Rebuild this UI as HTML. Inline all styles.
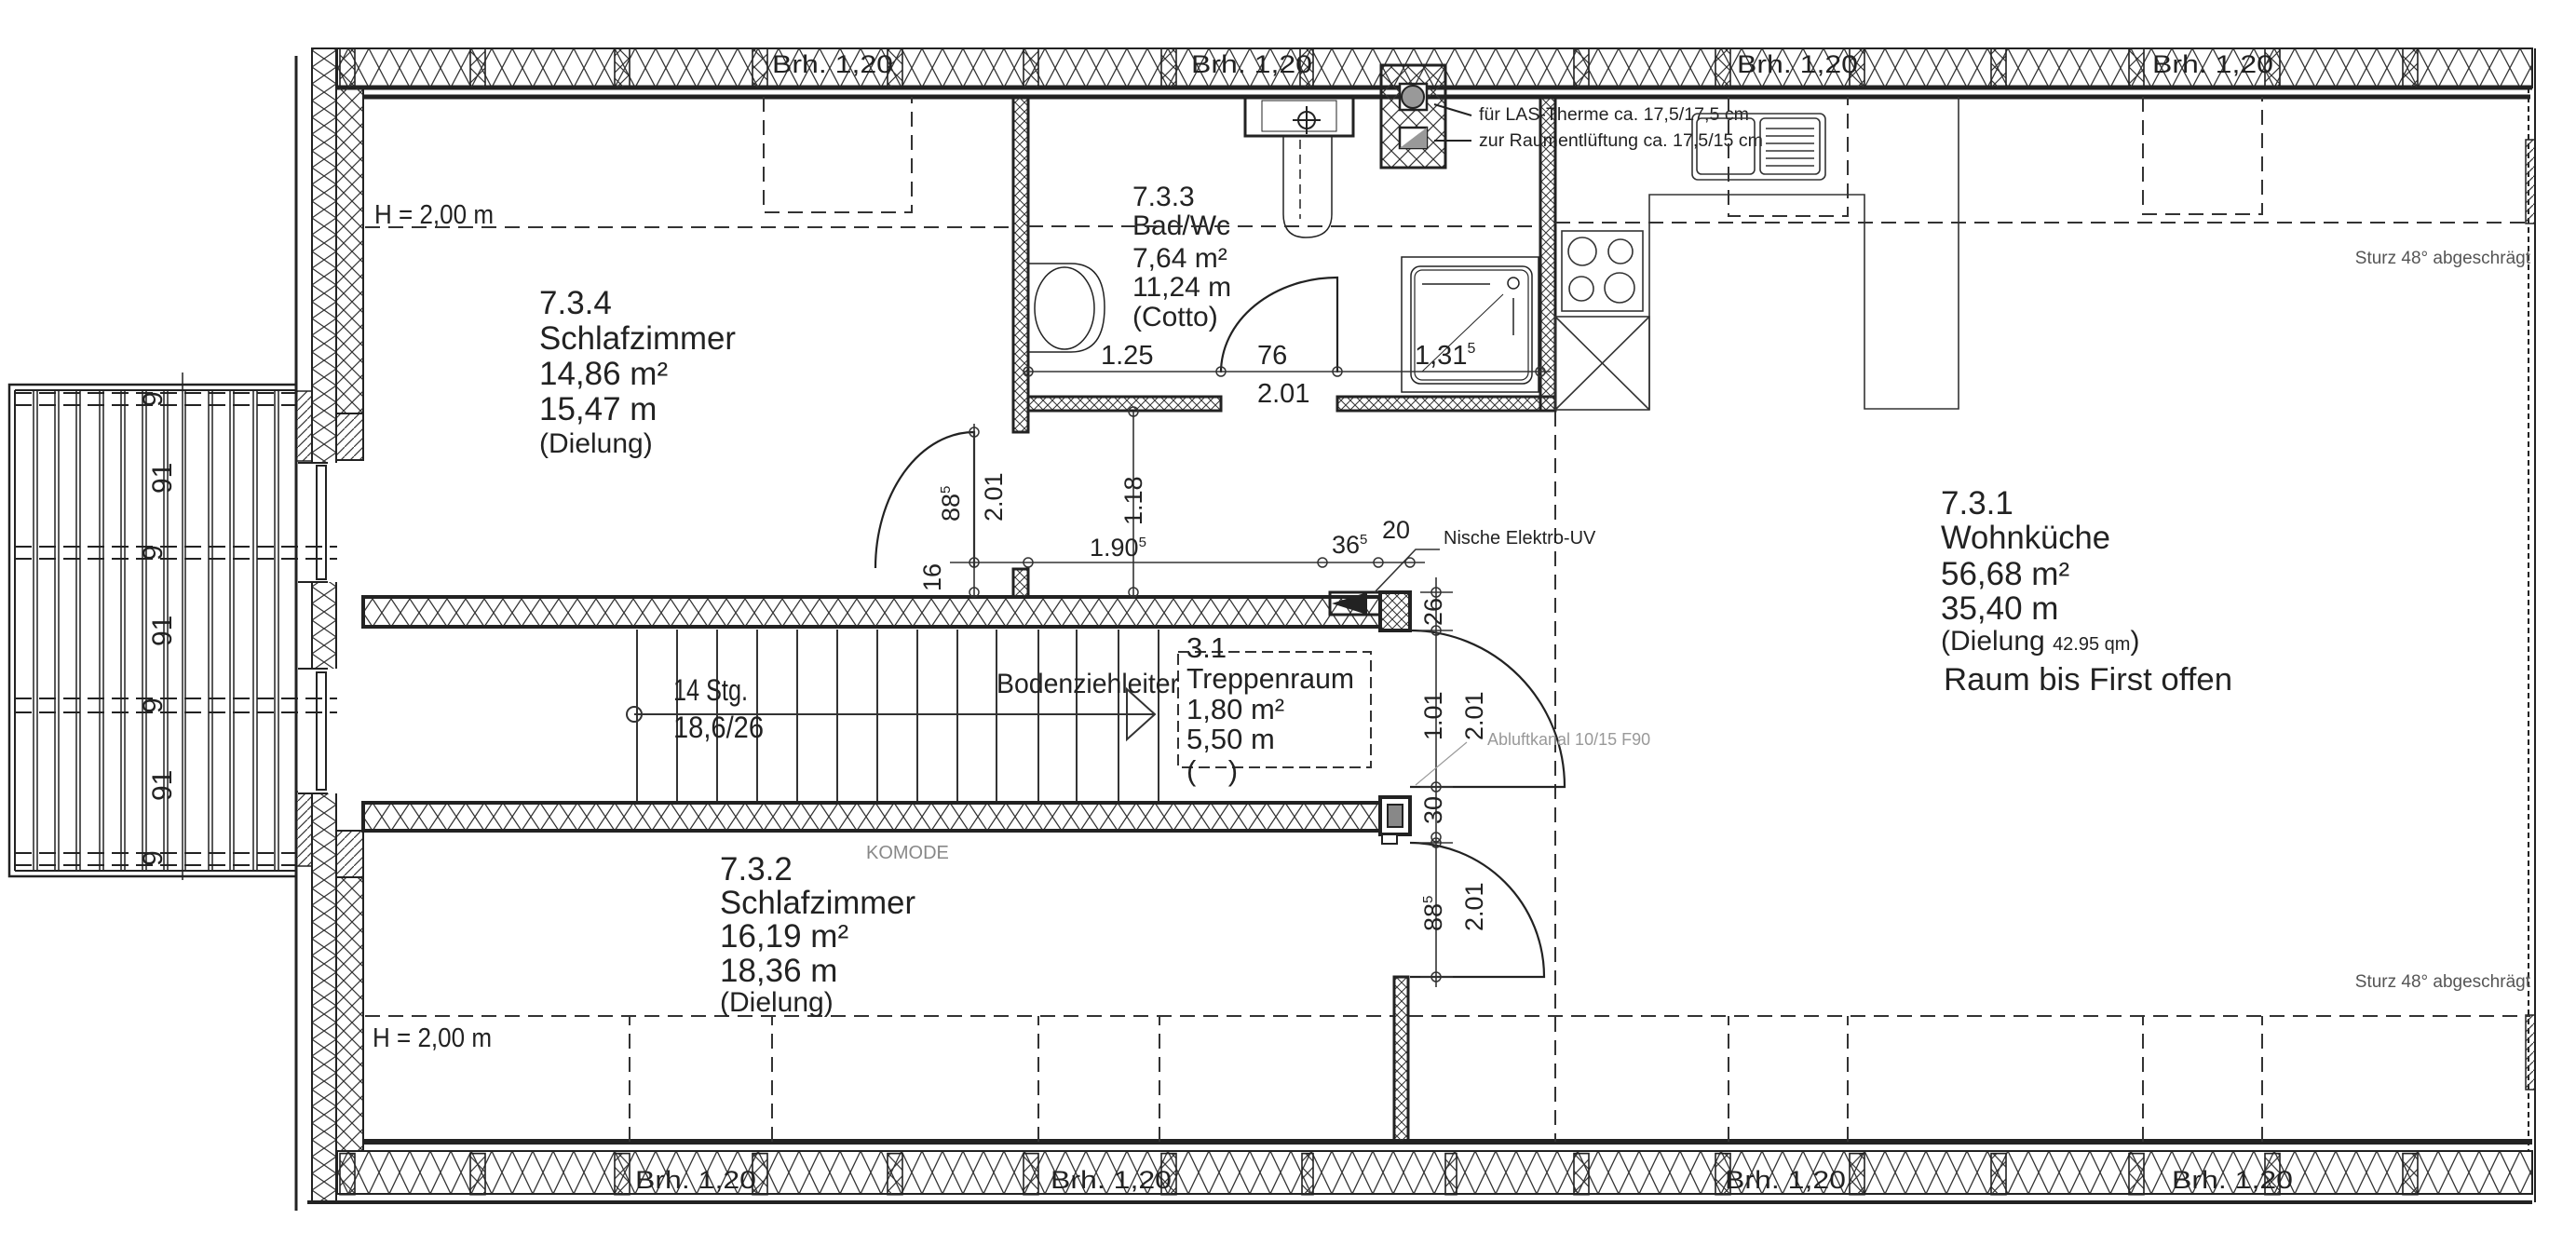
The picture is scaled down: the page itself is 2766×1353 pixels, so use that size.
<!DOCTYPE html>
<html><head><meta charset="utf-8"><style>
html,body{margin:0;padding:0;background:#fff;}
svg{display:block;}
text{font-family:"Liberation Sans",Arial,sans-serif;fill:#222;}
</style></head><body>
<svg width="2766" height="1353" viewBox="0 0 2766 1353" xmlns="http://www.w3.org/2000/svg">
<defs>
<pattern id="ht" width="22" height="42" patternUnits="userSpaceOnUse" x="0" y="52">
<path d="M0 0L22 42M22 0L0 42" stroke="#333" stroke-width="1.3" fill="none"/></pattern>
<pattern id="hb" width="22" height="46" patternUnits="userSpaceOnUse" x="0" y="1236">
<path d="M0 0L22 46M22 0L0 46" stroke="#333" stroke-width="1.3" fill="none"/></pattern>
<pattern id="hc" width="20" height="30" patternUnits="userSpaceOnUse" x="0" y="643">
<path d="M0 0L20 30M20 0L0 30" stroke="#333" stroke-width="1.3" fill="none"/></pattern>
<pattern id="hd" width="20" height="30" patternUnits="userSpaceOnUse" x="0" y="862">
<path d="M0 0L20 30M20 0L0 30" stroke="#333" stroke-width="1.3" fill="none"/></pattern>
<pattern id="hv" width="26" height="18" patternUnits="userSpaceOnUse" x="335" y="0">
<path d="M0 0L26 18M26 0L0 18" stroke="#333" stroke-width="1.2" fill="none"/></pattern>
<pattern id="hs" width="10" height="10" patternUnits="userSpaceOnUse">
<path d="M0 0L10 10M10 0L0 10" stroke="#333" stroke-width="1" fill="none"/></pattern>
<pattern id="hx" width="18" height="18" patternUnits="userSpaceOnUse">
<path d="M0 0L18 18M18 0L0 18" stroke="#333" stroke-width="1.2" fill="none"/></pattern>
<pattern id="dg" width="10" height="10" patternUnits="userSpaceOnUse">
<path d="M0 10L10 0" stroke="#333" stroke-width="1.2"/></pattern>
</defs>

<!-- TOP WALL -->
<rect x="362" y="52" width="2357" height="42" fill="url(#ht)" stroke="#222" stroke-width="2"/>
<line x1="362" y1="94" x2="2719" y2="94" stroke="#222" stroke-width="5"/>
<line x1="390" y1="104" x2="2717" y2="104" stroke="#222" stroke-width="5"/>
<!-- BOTTOM WALL -->
<line x1="390" y1="1226" x2="2719" y2="1226" stroke="#222" stroke-width="6"/>
<rect x="362" y="1236" width="2357" height="46" fill="url(#hb)" stroke="#222" stroke-width="2"/>
<line x1="330" y1="1291" x2="2719" y2="1291" stroke="#222" stroke-width="4"/>
<!-- window marks -->
<g stroke="#222" stroke-width="1.6" fill="#fff">
<g id="wm">
<rect x="365" y="52" width="16" height="42" fill="url(#hx)"/><rect x="505" y="52" width="16" height="42" fill="url(#hx)"/><rect x="660" y="52" width="16" height="42" fill="url(#hx)"/><rect x="808" y="52" width="16" height="42" fill="url(#hx)"/><rect x="953" y="52" width="16" height="42" fill="url(#hx)"/><rect x="1099" y="52" width="16" height="42" fill="url(#hx)"/><rect x="1247" y="52" width="16" height="42" fill="url(#hx)"/><rect x="1396" y="52" width="14" height="42" fill="url(#hx)"/><rect x="1690" y="52" width="16" height="42" fill="url(#hx)"/><rect x="1842" y="52" width="16" height="42" fill="url(#hx)"/><rect x="1986" y="52" width="16" height="42" fill="url(#hx)"/><rect x="2138" y="52" width="16" height="42" fill="url(#hx)"/><rect x="2286" y="52" width="16" height="42" fill="url(#hx)"/><rect x="2432" y="52" width="16" height="42" fill="url(#hx)"/><rect x="2580" y="52" width="16" height="42" fill="url(#hx)"/>
</g>
<g transform="translate(0,1184) scale(1,1.05)">
<rect x="365" y="52" width="16" height="42" fill="url(#hx)"/><rect x="505" y="52" width="16" height="42" fill="url(#hx)"/><rect x="660" y="52" width="16" height="42" fill="url(#hx)"/><rect x="808" y="52" width="16" height="42" fill="url(#hx)"/><rect x="953" y="52" width="16" height="42" fill="url(#hx)"/><rect x="1099" y="52" width="16" height="42" fill="url(#hx)"/><rect x="1247" y="52" width="16" height="42" fill="url(#hx)"/><rect x="1398" y="52" width="12" height="42" fill="url(#hx)"/><rect x="1552" y="52" width="12" height="42" fill="url(#hx)"/><rect x="1690" y="52" width="16" height="42" fill="url(#hx)"/><rect x="1842" y="52" width="16" height="42" fill="url(#hx)"/><rect x="1986" y="52" width="16" height="42" fill="url(#hx)"/><rect x="2138" y="52" width="16" height="42" fill="url(#hx)"/><rect x="2286" y="52" width="16" height="42" fill="url(#hx)"/><rect x="2432" y="52" width="16" height="42" fill="url(#hx)"/><rect x="2580" y="52" width="16" height="42" fill="url(#hx)"/>
</g>
</g>
<g font-size="27">
<text x="829" y="78" textLength="130" lengthAdjust="spacingAndGlyphs">Brh. 1,20</text>
<text x="1279" y="78" textLength="130" lengthAdjust="spacingAndGlyphs">Brh. 1,20</text>
<text x="1865" y="78" textLength="130" lengthAdjust="spacingAndGlyphs">Brh. 1,20</text>
<text x="2311" y="78" textLength="130" lengthAdjust="spacingAndGlyphs">Brh. 1,20</text>
<text x="682" y="1276" textLength="130" lengthAdjust="spacingAndGlyphs">Brh. 1,20</text>
<text x="1128" y="1276" textLength="130" lengthAdjust="spacingAndGlyphs">Brh. 1,20</text>
<text x="1852" y="1276" textLength="130" lengthAdjust="spacingAndGlyphs">Brh. 1,20</text>
<text x="2332" y="1276" textLength="130" lengthAdjust="spacingAndGlyphs">Brh. 1,20</text>
</g>

<!-- LEFT WALL -->
<line x1="318" y1="60" x2="318" y2="1300" stroke="#222" stroke-width="3"/>
<rect x="335" y="52" width="26" height="1238" fill="url(#hv)" stroke="#222" stroke-width="2"/>
<rect x="361" y="94" width="29" height="350" fill="url(#hx)" stroke="#222" stroke-width="2"/>
<rect x="361" y="444" width="29" height="50" fill="url(#dg)" stroke="#222" stroke-width="2"/>
<rect x="361" y="892" width="29" height="50" fill="url(#dg)" stroke="#222" stroke-width="2"/>
<rect x="361" y="942" width="29" height="294" fill="url(#hx)" stroke="#222" stroke-width="2"/>
<rect x="318" y="420" width="17" height="75" fill="url(#dg)" stroke="#222" stroke-width="1.5"/>
<rect x="318" y="850" width="17" height="80" fill="url(#dg)" stroke="#222" stroke-width="1.5"/>
<!-- window openings -->
<rect x="320" y="497" width="70" height="128" fill="#fff"/>
<rect x="320" y="718" width="70" height="134" fill="#fff"/>
<g stroke="#222" stroke-width="2" fill="none">
<line x1="318" y1="497" x2="318" y2="625"/><line x1="318" y1="718" x2="318" y2="852"/>
<rect x="340" y="500" width="10" height="122"/><rect x="340" y="722" width="10" height="126"/>
<line x1="320" y1="497" x2="352" y2="497"/><line x1="320" y1="625" x2="352" y2="625"/>
<line x1="320" y1="718" x2="352" y2="718"/><line x1="320" y1="852" x2="352" y2="852"/>
</g>

<!-- BALCONY -->
<g stroke="#222" fill="none">
<rect x="10" y="413" width="308" height="528" stroke-width="2.5"/>
<line x1="16" y1="419" x2="318" y2="419" stroke-width="2"/>
<line x1="16" y1="935" x2="318" y2="935" stroke-width="2"/>
<line x1="16" y1="419" x2="16" y2="935" stroke-width="2"/>
<g stroke-width="1.5">
<path d="M36 419V935M40 419V935M59 419V935M63 419V935M82 419V935M86 419V935M107 419V935M111 419V935M130 419V935M134 419V935M153 419V935M157 419V935M176 419V935M180 419V935M199 419V935M224 419V935M228 419V935M247 419V935M251 419V935M272 419V935M276 419V935M295 419V935M299 419V935"/>
<line x1="196" y1="400" x2="196" y2="945"/>
</g>
<g stroke-width="2" stroke-dasharray="18,8">
<line x1="16" y1="422" x2="318" y2="422"/><line x1="16" y1="435" x2="318" y2="435"/>
<line x1="16" y1="587" x2="362" y2="587"/><line x1="16" y1="600" x2="362" y2="600"/>
<line x1="16" y1="750" x2="362" y2="750"/><line x1="16" y1="765" x2="362" y2="765"/>
<line x1="16" y1="916" x2="318" y2="916"/><line x1="16" y1="929" x2="318" y2="929"/>
</g>
</g>
<g font-size="30">
<text transform="translate(174,437) rotate(-90)">9</text>
<text transform="translate(174,602) rotate(-90)">9</text>
<text transform="translate(174,766) rotate(-90)">9</text>
<text transform="translate(174,930) rotate(-90)">9</text>
<text transform="translate(184,530) rotate(-90)">91</text>
<text transform="translate(184,694) rotate(-90)">91</text>
<text transform="translate(184,860) rotate(-90)">91</text>
</g>

<!-- RIGHT WALL -->
<line x1="2715" y1="94" x2="2715" y2="1236" stroke="#222" stroke-width="2" stroke-dasharray="6,4"/>
<line x1="2722" y1="52" x2="2722" y2="1291" stroke="#222" stroke-width="2"/>
<rect x="2712" y="150" width="10" height="90" fill="url(#dg)" stroke="#222" stroke-width="1.5"/>
<rect x="2712" y="1090" width="10" height="80" fill="url(#dg)" stroke="#222" stroke-width="1.5"/>

<!-- CORRIDOR WALLS -->
<rect x="390" y="641" width="1092" height="32" fill="url(#hc)" stroke="#222" stroke-width="4"/>
<rect x="390" y="862" width="1092" height="30" fill="url(#hd)" stroke="#222" stroke-width="4"/>
<rect x="1482" y="636" width="32" height="41" fill="url(#hs)" stroke="#222" stroke-width="4"/>
<path d="M1430 648 L1468 636 L1468 660 Z" fill="#222"/>
<rect x="1428" y="636" width="54" height="24" fill="none" stroke="#222" stroke-width="3"/>
<rect x="1482" y="856" width="32" height="40" fill="#fff" stroke="#222" stroke-width="4"/>
<rect x="1490" y="864" width="16" height="24" fill="#888" stroke="#222" stroke-width="2"/>
<rect x="1484" y="896" width="16" height="10" fill="#fff" stroke="#222" stroke-width="2"/>

<!-- STAIRS -->
<g stroke="#333" stroke-width="2">
<path d="M684 676V860M727 676V860M770 676V860M813 676V860M856 676V860M899 676V860M942 676V860M985 676V860M1028 676V860M1070 676V860M1115 676V860M1156 676V860M1201 676V860M1244 676V860"/>
<line x1="681" y1="767" x2="1240" y2="767"/>
<path d="M1210 740 L1240 767 L1210 794 Z" fill="none"/>
</g>
<circle cx="681" cy="767" r="8" fill="none" stroke="#333" stroke-width="2"/>
<rect x="1265" y="700" width="207" height="124" fill="none" stroke="#333" stroke-width="2" stroke-dasharray="12,6"/>
<text x="723" y="752" font-size="32" textLength="80" lengthAdjust="spacingAndGlyphs">14 Stg.</text>
<text x="723" y="792" font-size="32" textLength="97" lengthAdjust="spacingAndGlyphs">18,6/26</text>
<text x="1070" y="744" font-size="30" textLength="196" lengthAdjust="spacingAndGlyphs">Bodenziehleiter</text>
<g font-size="31">
<text x="1274" y="706">3.1</text>
<text x="1274" y="739" textLength="180" lengthAdjust="spacingAndGlyphs">Treppenraum</text>
<text x="1274" y="772">1,80 m²</text>
<text x="1274" y="804">5,50 m</text>
<text x="1274" y="838">(&#160;&#160;&#160;&#160;)</text>
</g>

<!-- BATH -->
<rect x="1088" y="104" width="16" height="360" fill="url(#hs)" stroke="#222" stroke-width="3"/>
<rect x="1104" y="426" width="207" height="15" fill="url(#hs)" stroke="#222" stroke-width="3"/>
<rect x="1436" y="426" width="234" height="15" fill="url(#hs)" stroke="#222" stroke-width="3"/>
<rect x="1654" y="104" width="16" height="337" fill="url(#hs)" stroke="#222" stroke-width="3"/>
<rect x="1088" y="611" width="16" height="30" fill="url(#hs)" stroke="#222" stroke-width="3"/>
<!-- chimney -->
<rect x="1483" y="70" width="69" height="110" fill="url(#hx)" stroke="#222" stroke-width="3"/>
<rect x="1503" y="90" width="29" height="28" fill="#fff" stroke="#222" stroke-width="2.5"/>
<circle cx="1517" cy="104" r="12" fill="#999" stroke="#222" stroke-width="2"/>
<rect x="1503" y="137" width="29" height="22" fill="#fff" stroke="#222" stroke-width="2.5"/>
<path d="M1503 159 L1532 137 L1532 159 Z" fill="#999"/>
<g stroke="#222" stroke-width="2" fill="none">
<line x1="1540" y1="112" x2="1580" y2="124"/><line x1="1540" y1="151" x2="1580" y2="151"/>
<!-- washbasin top -->
<rect x="1337" y="103" width="116" height="43" stroke-width="3"/>
<rect x="1355" y="108" width="80" height="33" stroke-width="1"/>
<circle cx="1403" cy="129" r="9"/><line x1="1388" y1="129" x2="1418" y2="129"/><line x1="1403" y1="114" x2="1403" y2="144"/>
<!-- WC -->
<path d="M1378 146 L1378 230 Q1378 255 1402 255 Q1430 255 1430 230 L1430 146" stroke-width="1.5"/>
<line x1="1396" y1="150" x2="1396" y2="235" stroke-dasharray="10,6" stroke-width="1.5"/>
<!-- wash basin left -->
<path d="M1104 283 L1150 283 Q1186 283 1186 330 Q1186 378 1150 378 L1104 378" stroke-width="1.5"/>
<ellipse cx="1143" cy="331" rx="32" ry="44" stroke-width="1.5"/>
<!-- shower -->
<rect x="1505" y="276" width="147" height="145" stroke-width="1.5"/>
<rect x="1515" y="286" width="130" height="126" rx="10" stroke-width="1.5"/>
<rect x="1519" y="290" width="122" height="118" rx="8" stroke-width="1.2"/>
<circle cx="1625" cy="304" r="6" stroke-width="1.5"/>
<line x1="1527" y1="305" x2="1600" y2="305" stroke-width="1.5"/>
<line x1="1625" y1="320" x2="1625" y2="360" stroke-width="1.5"/>
<line x1="1527" y1="399" x2="1614" y2="316" stroke-width="1"/>
<!-- bath door -->
<path d="M1311 400 A125 102 0 0 1 1436 298 L1436 400" stroke-width="2.2"/>
</g>
<g font-size="30">
<text x="1216" y="221">7.3.3</text>
<text x="1216" y="252">Bad/Wc</text>
<text x="1216" y="287">7,64 m²</text>
<text x="1216" y="318">11,24 m</text>
<text x="1216" y="350">(Cotto)</text>
<text x="1182" y="391" font-size="29">1.25</text>
<text x="1350" y="391" font-size="29">76</text>
<text x="1350" y="432" font-size="29">2.01</text>
<text x="1519" y="391" font-size="29">1,31<tspan font-size="16" dy="-12">5</tspan></text>
</g>
<text x="1588" y="129" font-size="19" textLength="290" lengthAdjust="spacingAndGlyphs">für LAS-Therme ca. 17,5/17,5 cm</text>
<text x="1588" y="157" font-size="19" textLength="305" lengthAdjust="spacingAndGlyphs">zur Raumentlüftung ca. 17,5/15 cm</text>

<!-- KITCHEN -->
<g stroke="#333" stroke-width="1.6" fill="none">
<rect x="1677" y="248" width="87" height="86"/>
<circle cx="1699" cy="270" r="15"/><circle cx="1740" cy="270" r="13"/><circle cx="1698" cy="310" r="13"/><circle cx="1739" cy="309" r="16"/>
<rect x="1670" y="340" width="101" height="100"/>
<path d="M1670 340 L1771 440 M1771 340 L1670 440"/>
<path d="M1771 440 L1771 209 L2002 209 L2002 439 L2103 439 L2103 104"/>
<rect x="1817" y="122" width="143" height="71" rx="6"/>
<rect x="1822" y="127" width="62" height="60" rx="5"/>
<rect x="1890" y="127" width="64" height="60" rx="5"/>
<path d="M1896 138H1948M1896 146H1948M1896 154H1948M1896 162H1948M1896 170H1948M1896 178H1948"/>
</g>

<!-- DASHED LINES -->
<g stroke="#333" stroke-width="2" fill="none" stroke-dasharray="16,9">
<line x1="392" y1="244" x2="1088" y2="244"/>
<line x1="1104" y1="243" x2="1654" y2="243"/>
<line x1="1670" y1="239" x2="2717" y2="239"/>
<line x1="392" y1="1091" x2="1497" y2="1091"/>
<line x1="1512" y1="1091" x2="2717" y2="1091"/>
<line x1="1670" y1="442" x2="1670" y2="1226"/>
<path d="M820 104V228H979V104"/>
<path d="M1856 104V232H1984V104"/>
<path d="M2301 104V230H2429V104"/>
<path d="M676 1226V1091M829 1226V1091"/>
<path d="M1115 1226V1091M1245 1226V1091"/>
<path d="M1856 1226V1091M1984 1226V1091"/>
<path d="M2301 1226V1091M2429 1226V1091"/>
</g>
<text x="402" y="240" font-size="29" textLength="128" lengthAdjust="spacingAndGlyphs">H = 2,00 m</text>
<text x="400" y="1124" font-size="29" textLength="128" lengthAdjust="spacingAndGlyphs">H = 2,00 m</text>
<text x="2717" y="283" font-size="19" fill="#555" text-anchor="end" style="fill:#555">Sturz 48° abgeschrägt</text>
<text x="2717" y="1060" font-size="19" text-anchor="end" style="fill:#555">Sturz 48° abgeschrägt</text>

<!-- LOWER ROOM PARTITION -->
<rect x="1497" y="1049" width="15" height="177" fill="url(#hs)" stroke="#222" stroke-width="3"/>

<!-- DOORS -->
<g stroke="#222" stroke-width="2.2" fill="none">
<path d="M940 610 A106 146 0 0 1 1046 464 L1046 610"/>
<path d="M1514 677 A166 168 0 0 1 1680 845 L1514 845"/>
<path d="M1514 905 A144 144 0 0 1 1658 1049 L1514 1049"/>
</g>

<!-- DIMENSION LINES -->
<g stroke="#333" stroke-width="1.6" fill="none">
<line x1="1100" y1="399" x2="1665" y2="399"/>
<line x1="1046" y1="455" x2="1046" y2="640"/>
<line x1="1217" y1="442" x2="1217" y2="640"/>
<line x1="1020" y1="604" x2="1530" y2="604"/>
<line x1="1542" y1="620" x2="1542" y2="1060"/>
<line x1="1525" y1="677" x2="1560" y2="677"/><line x1="1525" y1="636" x2="1560" y2="636"/>
<line x1="1525" y1="845" x2="1560" y2="845"/><line x1="1525" y1="905" x2="1560" y2="905"/>
<line x1="1525" y1="1049" x2="1560" y2="1049"/>
<path d="M1476 636 L1520 590 L1546 590"/>
</g>
<g stroke="#333" stroke-width="1.5" fill="none">
<circle cx="1104" cy="399" r="5"/><circle cx="1311" cy="399" r="5"/><circle cx="1436" cy="399" r="5"/><circle cx="1654" cy="399" r="5"/>
<circle cx="1217" cy="442" r="5"/><circle cx="1217" cy="636" r="5"/>
<circle cx="1046" cy="464" r="5"/><circle cx="1046" cy="604" r="5"/><circle cx="1046" cy="636" r="5"/>
<circle cx="1104" cy="604" r="5"/><circle cx="1420" cy="604" r="5"/><circle cx="1480" cy="604" r="5"/><circle cx="1514" cy="604" r="5"/>
<circle cx="1542" cy="636" r="5"/><circle cx="1542" cy="677" r="5"/><circle cx="1542" cy="845" r="5"/><circle cx="1542" cy="899" r="5"/><circle cx="1542" cy="905" r="5"/><circle cx="1542" cy="1049" r="5"/>
</g>
<g font-size="27">
<text transform="translate(1030,560) rotate(-90)">88<tspan font-size="15" dy="-10">5</tspan></text>
<text transform="translate(1076,560) rotate(-90)">2.01</text>
<text transform="translate(1226,564) rotate(-90)">1.18</text>
<text transform="translate(1010,635) rotate(-90)">16</text>
<text x="1170" y="597">1.90<tspan font-size="15" dy="-10">5</tspan></text>
<text x="1430" y="594">36<tspan font-size="15" dy="-10">5</tspan></text>
<text x="1484" y="578">20</text>
<text x="1550" y="584" font-size="20">Nische Elektro-UV</text>
<text transform="translate(1548,672) rotate(-90)">26</text>
<text transform="translate(1548,795) rotate(-90)">1.01</text>
<text transform="translate(1592,795) rotate(-90)">2.01</text>
<text transform="translate(1548,885) rotate(-90)">30</text>
<text transform="translate(1548,1000) rotate(-90)">88<tspan font-size="15" dy="-10">5</tspan></text>
<text transform="translate(1592,1000) rotate(-90)">2.01</text>
</g>
<line x1="1520" y1="843" x2="1575" y2="797" stroke="#999" stroke-width="1.2"/>
<text x="1597" y="800" font-size="18" style="fill:#999">Abluftkanal 10/15 F90</text>

<!-- ROOM LABELS -->
<g font-size="35">
<text x="579" y="337">7.3.4</text>
<text x="579" y="375" textLength="211" lengthAdjust="spacingAndGlyphs">Schlafzimmer</text>
<text x="579" y="413">14,86 m²</text>
<text x="579" y="451">15,47 m</text>
<text x="579" y="486" font-size="30">(Dielung)</text>

<text x="773" y="945">7.3.2</text>
<text x="773" y="981" textLength="210" lengthAdjust="spacingAndGlyphs">Schlafzimmer</text>
<text x="773" y="1017">16,19 m²</text>
<text x="773" y="1054">18,36 m</text>
<text x="773" y="1086" font-size="30">(Dielung)</text>

<text x="2084" y="552">7.3.1</text>
<text x="2084" y="589" textLength="182" lengthAdjust="spacingAndGlyphs">Wohnküche</text>
<text x="2084" y="628">56,68 m²</text>
<text x="2084" y="665">35,40 m</text>
<text x="2084" y="698" font-size="30">(Dielung <tspan font-size="20">42.95 qm</tspan>)</text>
<text x="2087" y="741" font-size="34" textLength="310" lengthAdjust="spacingAndGlyphs">Raum bis First offen</text>
</g>
<text x="930" y="922" font-size="20" style="fill:#888">KOMODE</text>
</svg>
</body></html>
